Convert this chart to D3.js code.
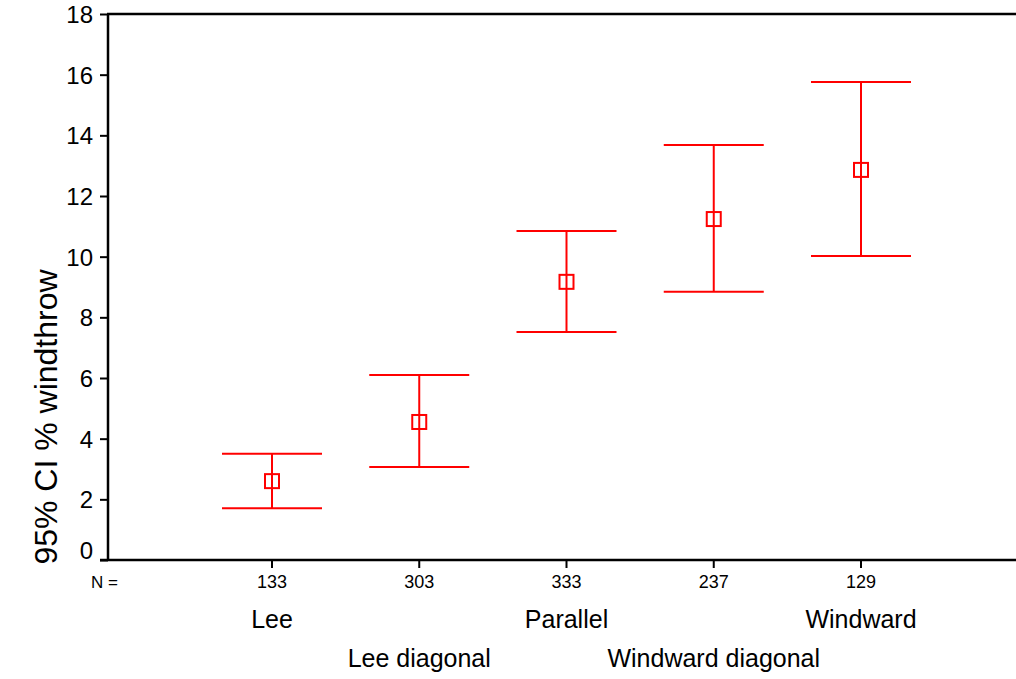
<!DOCTYPE html>
<html>
<head>
<meta charset="utf-8">
<script src="https://cdn.jsdelivr.net/npm/d3@7"></script>
<style>
  body { margin: 0; background: #fff; }
  svg { display: block; font-family: "Liberation Sans", Arial, sans-serif; }
</style>
</head>
<body>
<svg id="chart" width="1016" height="679"></svg>
<script>
// chart data
const categories = ['Lee', 'Lee diagonal', 'Parallel', 'Windward diagonal', 'Windward'];
const counts = [133, 303, 333, 237, 129];
const means = [2.6, 4.55, 9.17, 11.24, 12.86];
const lowers = [1.71, 3.07, 7.52, 8.84, 10.02];
const uppers = [3.5, 6.1, 10.85, 13.68, 15.76];
const yTicks = [0, 2, 4, 6, 8, 10, 12, 14, 16, 18];

const RED = '#ff0000';
const CAP_HALF = 50;
const BOX = 14;

const svg = d3.select('#chart');

const x = d3.scalePoint()
  .domain(categories)
  .range([272, 861]);

const y = d3.scaleLinear()
  .domain([0, 18])
  .range([560, 14]);

const rows = categories.map((c, i) => ({
  cat: c, n: counts[i], mean: means[i], lo: lowers[i], hi: uppers[i]
}));

// y axis
const yAxis = svg.append('g')
  .attr('transform', 'translate(108,0)')
  .call(d3.axisLeft(y).tickValues(yTicks).tickSize(8).tickPadding(7));
yAxis.select('.domain').remove();
yAxis.selectAll('line').attr('stroke', '#000').attr('stroke-width', 2);
yAxis.selectAll('text')
  .attr('font-size', 24)
  .attr('fill', '#000')
  // the 0 label sits a bit above its tick in the original
  .attr('dy', d => d === 0 ? '-0.05em' : '0.35em');

// frame lines: left, top, bottom
svg.append('line').attr('x1', 108).attr('x2', 108).attr('y1', y(18)).attr('y2', y(0))
  .attr('stroke', '#000').attr('stroke-width', 2.5);
svg.append('line').attr('x1', 107).attr('x2', 1016).attr('y1', y(18)).attr('y2', y(18))
  .attr('stroke', '#000').attr('stroke-width', 2.5);
svg.append('line').attr('x1', 100).attr('x2', 1016).attr('y1', y(0)).attr('y2', y(0))
  .attr('stroke', '#000').attr('stroke-width', 2.5);

// x ticks
svg.append('g').selectAll('line')
  .data(categories)
  .join('line')
  .attr('x1', d => x(d)).attr('x2', d => x(d))
  .attr('y1', y(0)).attr('y2', y(0) + 8)
  .attr('stroke', '#000').attr('stroke-width', 2);

// N row
svg.append('text')
  .attr('x', 91).attr('y', 588)
  .attr('font-size', 17)
  .text('N =');
svg.append('g').selectAll('text')
  .data(rows)
  .join('text')
  .attr('x', d => x(d.cat))
  .attr('y', 588)
  .attr('text-anchor', 'middle')
  .attr('font-size', 18)
  .text(d => d.n);

// category labels, alternating rows
svg.append('g').selectAll('text')
  .data(rows)
  .join('text')
  .attr('x', d => x(d.cat))
  .attr('y', (d, i) => i % 2 === 0 ? 628 : 667)
  .attr('text-anchor', 'middle')
  .attr('font-size', 25)
  .text(d => d.cat);

// y label
svg.append('text')
  .attr('transform', 'translate(57,417) rotate(-90)')
  .attr('text-anchor', 'middle')
  .attr('font-size', 32)
  .text('95% CI % windthrow');

// error bars
const bars = svg.append('g').selectAll('g')
  .data(rows)
  .join('g')
  .attr('stroke', RED)
  .attr('stroke-width', 2)
  .attr('fill', 'none');

bars.append('line')
  .attr('x1', d => x(d.cat)).attr('x2', d => x(d.cat))
  .attr('y1', d => y(d.hi)).attr('y2', d => y(d.lo));
bars.append('line')
  .attr('x1', d => x(d.cat) - CAP_HALF).attr('x2', d => x(d.cat) + CAP_HALF)
  .attr('y1', d => y(d.hi)).attr('y2', d => y(d.hi));
bars.append('line')
  .attr('x1', d => x(d.cat) - CAP_HALF).attr('x2', d => x(d.cat) + CAP_HALF)
  .attr('y1', d => y(d.lo)).attr('y2', d => y(d.lo));
bars.append('rect')
  .attr('x', d => x(d.cat) - BOX / 2)
  .attr('y', d => y(d.mean) - BOX / 2)
  .attr('width', BOX).attr('height', BOX);
</script>
</body>
</html>
